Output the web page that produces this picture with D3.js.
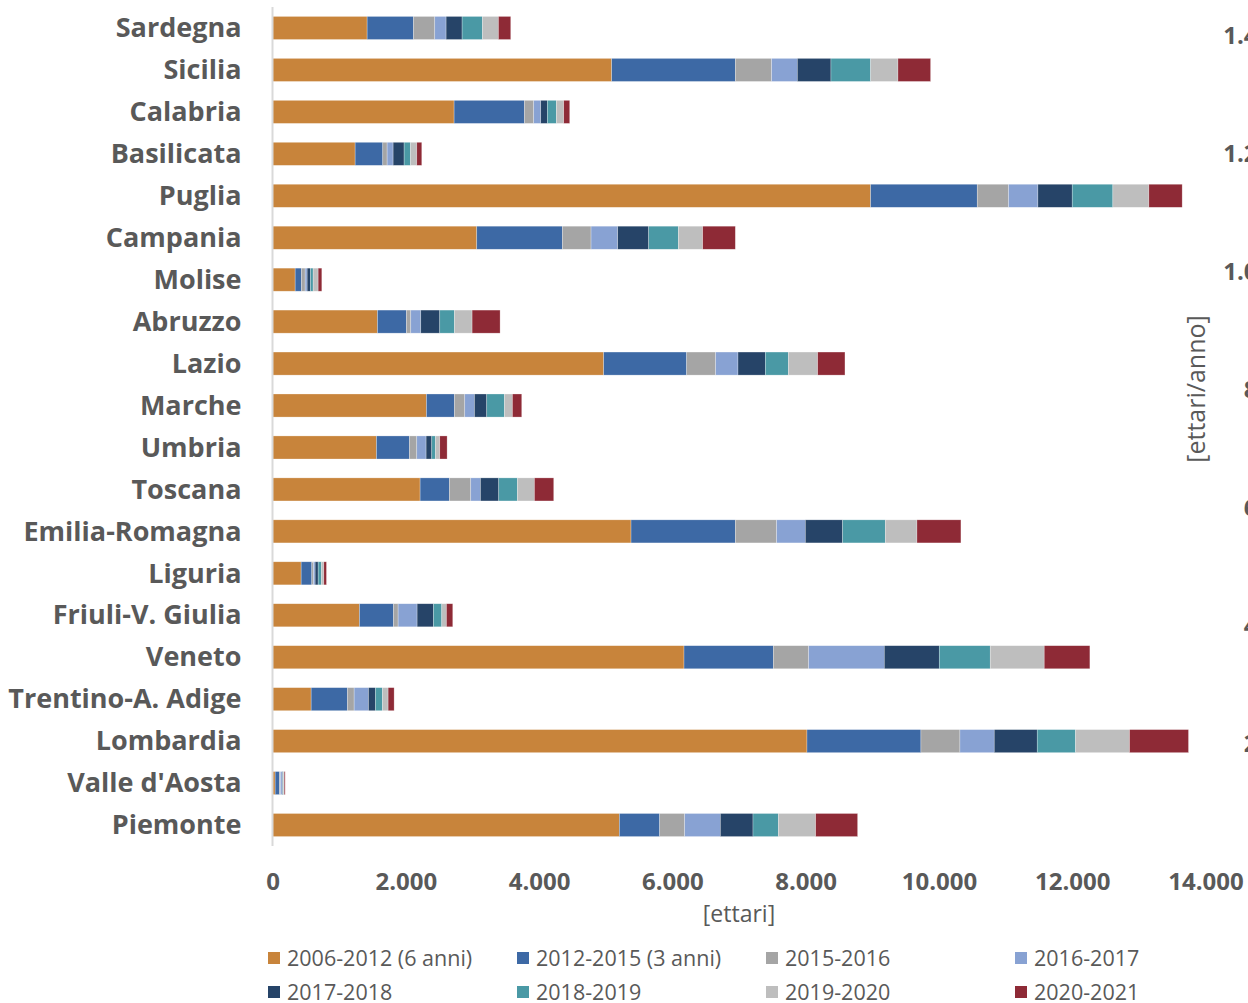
<!DOCTYPE html>
<html lang="it">
<head>
<meta charset="utf-8">
<script src="https://cdn.jsdelivr.net/npm/d3@7"></script>
<style>
  html, body { margin: 0; padding: 0; background: #fff; }
  svg { display: block; font-family: "Open Sans", "Noto Sans", sans-serif; }
</style>
</head>
<body>
<svg id="chart" width="1248" height="1003"></svg>
<script>
// Regioni, dall'alto verso il basso
const regioni = ["Sardegna", "Sicilia", "Calabria", "Basilicata", "Puglia", "Campania", "Molise",
  "Abruzzo", "Lazio", "Marche", "Umbria", "Toscana", "Emilia-Romagna", "Liguria",
  "Friuli-V. Giulia", "Veneto", "Trentino-A. Adige", "Lombardia", "Valle d'Aosta", "Piemonte"];

// Consumo di suolo per periodo [ettari], nello stesso ordine delle regioni
const p2006_2012 = [1420, 5090, 2725, 1240, 8975, 3065, 340, 1575, 4970, 2310, 1560, 2215, 5380, 430, 1305, 6175, 580, 8020, 40, 5205];
const p2012_2015 = [695, 1855, 1055, 415, 1600, 1285, 95, 435, 1245, 420, 495, 440, 1565, 160, 510, 1340, 545, 1710, 65, 605];
const p2015_2016 = [320, 545, 140, 65, 470, 430, 55, 65, 435, 155, 110, 320, 620, 25, 70, 530, 100, 585, 15, 375];
const p2016_2017 = [170, 385, 105, 90, 440, 400, 30, 150, 335, 145, 140, 145, 430, 25, 285, 1135, 215, 515, 25, 535];
const p2017_2018 = [240, 505, 100, 165, 515, 465, 50, 285, 410, 185, 85, 275, 560, 45, 245, 825, 105, 645, 10, 490];
const p2018_2019 = [305, 595, 135, 95, 610, 445, 40, 220, 345, 265, 55, 280, 640, 50, 125, 765, 105, 575, 10, 380];
const p2019_2020 = [240, 410, 110, 95, 540, 365, 75, 265, 440, 120, 65, 255, 475, 35, 70, 810, 85, 810, 10, 560];
const p2020_2021 = [185, 490, 90, 75, 500, 490, 55, 420, 410, 140, 110, 290, 660, 40, 95, 685, 90, 885, 15, 630];

const periodi = ["2006-2012 (6 anni)", "2012-2015 (3 anni)", "2015-2016", "2016-2017",
  "2017-2018", "2018-2019", "2019-2020", "2020-2021"];
const colori = ["#C8843B", "#3D69A5", "#A5A5A5", "#88A2D3", "#264468", "#4A99A5", "#BEBEBE", "#8E2A36"];

// Tick degli assi
const tickEttari = [0, 2000, 4000, 6000, 8000, 10000, 12000, 14000];
const tickEttariAnno = [0, 200, 400, 600, 800, 1000, 1200, 1400];

const serie = [p2006_2012, p2012_2015, p2015_2016, p2016_2017, p2017_2018, p2018_2019, p2019_2020, p2020_2021];

// Tabella per lo stack: una riga per regione, una colonna per periodo
const righe = regioni.map((r, i) => {
  const o = { regione: r };
  periodi.forEach((p, k) => { o[p] = serie[k][i]; });
  return o;
});

const it = d3.formatLocale({ decimal: ",", thousands: ".", grouping: [3], currency: ["€", ""] });
const fmt = it.format(",.0f");

const svg = d3.select("#chart");
const testo = "#595959";

const x = d3.scaleLinear().domain([0, 14000]).range([272.5, 1205.5]);
const y = d3.scaleBand().domain(regioni).range([7, 846]).paddingInner(0.45).paddingOuter(0.225);
const y2 = d3.scaleLinear().domain([0, 1400]).range([861.5, 35.5]);

const stack = d3.stack().keys(periodi)(righe);

// Barre impilate
svg.append("g")
  .selectAll("g")
  .data(stack)
  .join("g")
  .attr("fill", (d, k) => colori[k])
  .selectAll("rect")
  .data(d => d)
  .join("rect")
  .attr("x", d => x(d[0]))
  .attr("width", d => Math.max(0, x(d[1]) - x(d[0])))
  .attr("y", d => y(d.data.regione))
  .attr("height", y.bandwidth())
  .attr("stroke", "#ffffff")
  .attr("stroke-opacity", 0.45)
  .attr("stroke-width", 0.6);

// Asse verticale delle categorie
const assey = svg.append("g")
  .attr("transform", `translate(${x(0)},0)`)
  .call(d3.axisLeft(y).tickSize(0).tickPadding(31));
assey.select(".domain").attr("stroke", "#D9D9D9").attr("stroke-width", 2)
  .attr("d", `M0,7V846`);
assey.selectAll("text")
  .attr("fill", testo)
  .attr("font-size", 27)
  .attr("font-weight", 700)
  .attr("dy", "0.34em")
  .attr("font-family", "'Open Sans', sans-serif");

// Asse orizzontale [ettari]
const assex = svg.append("g")
  .attr("transform", "translate(0,846)")
  .call(d3.axisBottom(x).tickValues(tickEttari).tickFormat(fmt).tickSize(0).tickPadding(27));
assex.select(".domain").remove();
assex.selectAll("text")
  .attr("fill", testo)
  .attr("font-size", 24)
  .attr("font-weight", 700)
  .attr("font-family", "'Open Sans', sans-serif");

// Asse secondario [ettari/anno] sul lato destro, in parte oltre il bordo
const assey2 = svg.append("g")
  .attr("transform", "translate(1285,0)")
  .call(d3.axisLeft(y2).tickValues(tickEttariAnno).tickFormat(fmt).tickSize(0).tickPadding(0));
assey2.select(".domain").remove();
assey2.selectAll("text")
  .attr("fill", testo)
  .attr("font-size", 24)
  .attr("font-weight", 700)
  .attr("font-family", "'Open Sans', sans-serif");

// Titoli degli assi
svg.append("text")
  .attr("x", 739).attr("y", 922)
  .attr("text-anchor", "middle")
  .attr("fill", testo)
  .attr("font-size", 23)
  .text("[ettari]");

svg.append("text")
  .attr("transform", "translate(1205,389) rotate(-90)")
  .attr("text-anchor", "middle")
  .attr("fill", testo)
  .attr("font-size", 25)
  .text("[ettari/anno]");

// Legenda su due righe
const leg = svg.append("g")
  .selectAll("g")
  .data(periodi)
  .join("g")
  .attr("transform", (d, k) => `translate(${268 + (k % 4) * 249},${958 + Math.floor(k / 4) * 34})`);
leg.append("rect")
  .attr("x", 0).attr("y", -6).attr("width", 12).attr("height", 12)
  .attr("fill", (d, k) => colori[k]);
leg.append("text")
  .attr("x", 19).attr("y", 0).attr("dy", "0.35em")
  .attr("fill", testo)
  .attr("font-size", 21.5)
  .text(d => d);
</script>
</body>
</html>
